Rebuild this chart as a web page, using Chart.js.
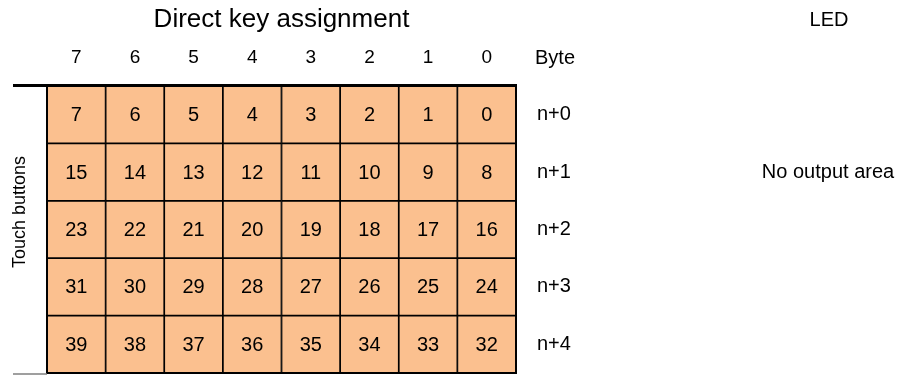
<!DOCTYPE html>
<html>
<head>
<meta charset="utf-8">
<script src="https://cdn.jsdelivr.net/npm/chart.js@4"></script>
<style>
  html, body { margin: 0; padding: 0; background: #fff; }
  #wrap { width: 905px; height: 376px; }
</style>
</head>
<body>
<div id="wrap"><canvas id="keys" width="905" height="376"></canvas></div>
<script>
const bitLabels = ['7', '6', '5', '4', '3', '2', '1', '0'];
const byteLabels = ['n+0', 'n+1', 'n+2', 'n+3', 'n+4'];
const keyNumbers = [
    [7, 6, 5, 4, 3, 2, 1, 0],
    [15, 14, 13, 12, 11, 10, 9, 8],
    [23, 22, 21, 20, 19, 18, 17, 16],
    [31, 30, 29, 28, 27, 26, 25, 24],
    [39, 38, 37, 36, 35, 34, 33, 32],
];

const cellColor = '#fbc08f';
const font = 'Liberation Sans, Arial, sans-serif';

// every cell is one unit tall, rows are stacked top to bottom
const datasets = keyNumbers.map((row, i) => ({
    label: byteLabels[i],
    data: row.map(() => 1),
    keys: row,
    backgroundColor: cellColor,
    borderColor: '#000',
    borderWidth: 1.2,
    borderSkipped: false,
    barPercentage: 1,
    categoryPercentage: 1,
}));

const extras = {
    id: 'extras',
    afterDatasetsDraw(chart) {
        const { ctx, chartArea } = chart;
        ctx.save();
        ctx.fillStyle = '#000';
        ctx.textAlign = 'center';
        ctx.textBaseline = 'middle';
        ctx.font = `20px ${font}`;
        chart.data.datasets.forEach((ds, i) => {
            chart.getDatasetMeta(i).data.forEach((bar, j) => {
                const p = bar.getCenterPoint();
                ctx.fillText(String(ds.keys[j]), p.x, p.y + 1);
            });
        });

        // outer frame
        ctx.strokeStyle = '#000';
        ctx.lineWidth = 2;
        ctx.strokeRect(chartArea.left, chartArea.top, chartArea.right - chartArea.left, chartArea.bottom - chartArea.top);

        // header rule and bottom rule
        ctx.lineWidth = 3;
        ctx.beginPath();
        ctx.moveTo(13, chartArea.top - 0.5);
        ctx.lineTo(chartArea.right + 1, chartArea.top - 0.5);
        ctx.stroke();
        ctx.strokeStyle = '#7f7f7f';
        ctx.lineWidth = 1.5;
        ctx.beginPath();
        ctx.moveTo(13, chartArea.bottom + 1);
        ctx.lineTo(chartArea.left, chartArea.bottom + 1);
        ctx.stroke();

        ctx.fillStyle = '#000';
        ctx.textAlign = 'left';
        ctx.fillText('Byte', chartArea.right + 19, 58);
        ctx.textAlign = 'center';
        ctx.fillText('LED', 829, 20);
        ctx.fillText('No output area', 828, 172);

        ctx.translate(20, 212);
        ctx.rotate(-Math.PI / 2);
        ctx.font = `18px ${font}`;
        ctx.fillText('Touch buttons', 0, 0);
        ctx.restore();
    },
};

new Chart(document.getElementById('keys'), {
    type: 'bar',
    data: { labels: bitLabels, datasets },
    options: {
        responsive: false,
        animation: false,
        layout: { padding: { left: 47, right: 0, top: 0, bottom: 3 } },
        plugins: { legend: { display: false }, tooltip: { enabled: false } },
        scales: {
            x: {
                position: 'top',
                stacked: true,
                grid: { display: false, drawTicks: false },
                border: { display: false },
                ticks: { color: '#000', font: { family: font, size: 19 }, padding: 17 },
                title: {
                    display: true,
                    text: 'Direct key assignment',
                    color: '#000',
                    font: { family: font, size: 26 },
                    padding: { top: 4, bottom: 0 },
                },
                afterFit: s => { s.height = 86; s.paddingLeft = 0; s.paddingRight = 0; },
            },
            y: {
                type: 'linear',
                stacked: true,
                min: 0,
                max: 5,
                reverse: true,
                display: false,
            },
            y2: {
                type: 'category',
                position: 'right',
                labels: byteLabels,
                offset: true,
                grid: { display: false, drawTicks: false },
                border: { display: false },
                ticks: { color: '#000', font: { family: font, size: 20 }, padding: 21 },
                afterFit: s => { s.width = 389; s.paddingTop = 0; s.paddingBottom = 0; },
            },
        },
    },
    plugins: [extras],
});
</script>
</body>
</html>
